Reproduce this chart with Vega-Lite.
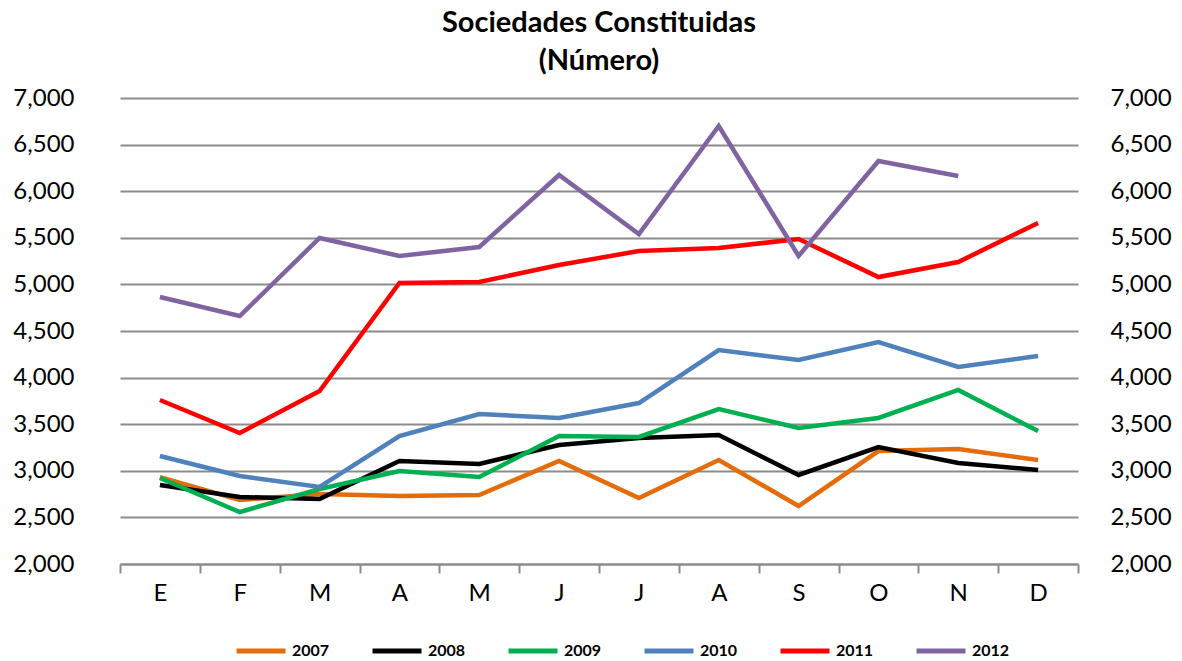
{
  "$schema": "https://vega.github.io/schema/vega-lite/v6.json",
  "autosize": "none",
  "width": 958,
  "height": 466,
  "padding": {"left": 120, "top": 98, "right": 104, "bottom": 97},
  "background": "white",
  "config": {
    "font": "Lato",
    "view": {"stroke": null}
  },
  "title": {
    "text": ["Sociedades Constituidas", "(Número)"],
    "anchor": "middle",
    "fontSize": 29,
    "font": "Lato",
    "fontWeight": "bold",
    "color": "black",
    "lineHeight": 38,
    "offset": 10
  },
  "data": {
    "values": [
      {"year": "2007", "m": 1, "v": 2933}, {"year": "2007", "m": 2, "v": 2687}, {"year": "2007", "m": 3, "v": 2751}, {"year": "2007", "m": 4, "v": 2730}, {"year": "2007", "m": 5, "v": 2740}, {"year": "2007", "m": 6, "v": 3105}, {"year": "2007", "m": 7, "v": 2708}, {"year": "2007", "m": 8, "v": 3116}, {"year": "2007", "m": 9, "v": 2622}, {"year": "2007", "m": 10, "v": 3212}, {"year": "2007", "m": 11, "v": 3234}, {"year": "2007", "m": 12, "v": 3116},
      {"year": "2008", "m": 1, "v": 2848}, {"year": "2008", "m": 2, "v": 2719}, {"year": "2008", "m": 3, "v": 2697}, {"year": "2008", "m": 4, "v": 3105}, {"year": "2008", "m": 5, "v": 3073}, {"year": "2008", "m": 6, "v": 3277}, {"year": "2008", "m": 7, "v": 3352}, {"year": "2008", "m": 8, "v": 3384}, {"year": "2008", "m": 9, "v": 2955}, {"year": "2008", "m": 10, "v": 3255}, {"year": "2008", "m": 11, "v": 3084}, {"year": "2008", "m": 12, "v": 3009},
      {"year": "2009", "m": 1, "v": 2923}, {"year": "2009", "m": 2, "v": 2558}, {"year": "2009", "m": 3, "v": 2805}, {"year": "2009", "m": 4, "v": 2998}, {"year": "2009", "m": 5, "v": 2933}, {"year": "2009", "m": 6, "v": 3373}, {"year": "2009", "m": 7, "v": 3363}, {"year": "2009", "m": 8, "v": 3663}, {"year": "2009", "m": 9, "v": 3459}, {"year": "2009", "m": 10, "v": 3567}, {"year": "2009", "m": 11, "v": 3867}, {"year": "2009", "m": 12, "v": 3427},
      {"year": "2010", "m": 1, "v": 3159}, {"year": "2010", "m": 2, "v": 2944}, {"year": "2010", "m": 3, "v": 2826}, {"year": "2010", "m": 4, "v": 3373}, {"year": "2010", "m": 5, "v": 3609}, {"year": "2010", "m": 6, "v": 3567}, {"year": "2010", "m": 7, "v": 3727}, {"year": "2010", "m": 8, "v": 4296}, {"year": "2010", "m": 9, "v": 4189}, {"year": "2010", "m": 10, "v": 4382}, {"year": "2010", "m": 11, "v": 4114}, {"year": "2010", "m": 12, "v": 4232},
      {"year": "2011", "m": 1, "v": 3760}, {"year": "2011", "m": 2, "v": 3406}, {"year": "2011", "m": 3, "v": 3856}, {"year": "2011", "m": 4, "v": 5015}, {"year": "2011", "m": 5, "v": 5026}, {"year": "2011", "m": 6, "v": 5208}, {"year": "2011", "m": 7, "v": 5358}, {"year": "2011", "m": 8, "v": 5391}, {"year": "2011", "m": 9, "v": 5487}, {"year": "2011", "m": 10, "v": 5079}, {"year": "2011", "m": 11, "v": 5240}, {"year": "2011", "m": 12, "v": 5659},
      {"year": "2012", "m": 1, "v": 4865}, {"year": "2012", "m": 2, "v": 4661}, {"year": "2012", "m": 3, "v": 5498}, {"year": "2012", "m": 4, "v": 5305}, {"year": "2012", "m": 5, "v": 5401}, {"year": "2012", "m": 6, "v": 6174}, {"year": "2012", "m": 7, "v": 5541}, {"year": "2012", "m": 8, "v": 6700}, {"year": "2012", "m": 9, "v": 5305}, {"year": "2012", "m": 10, "v": 6324}, {"year": "2012", "m": 11, "v": 6163}
    ]
  },
  "encoding": {
    "x": {
      "field": "m",
      "type": "ordinal",
      "bandPosition": 0.5,
      "scale": {"type": "band", "paddingInner": 0, "paddingOuter": 0},
      "axis": {
        "title": null,
        "labelExpr": "['E','F','M','A','M','J','J','A','S','O','N','D'][datum.value-1]",
        "labelAngle": 0,
        "labelFontSize": 24,
        "labelColor": "black",
        "labelFont": "Lato",
        "tickBand": "extent",
        "tickSize": 9,
        "tickColor": "#8c8c8c",
        "tickWidth": 2,
        "domainColor": "#8c8c8c",
        "domainWidth": 2,
        "labelPadding": 8,
        "grid": false
      }
    },
    "y": {
      "field": "v",
      "type": "quantitative",
      "scale": {"domain": [2000, 7000], "nice": false, "zero": false}
    }
  },
  "layer": [
    {
      "mark": {"type": "line", "strokeWidth": 4.5, "strokeJoin": "miter"},
      "encoding": {
        "y": {
          "field": "v",
          "type": "quantitative",
          "scale": {"domain": [2000, 7000], "nice": false, "zero": false},
          "axis": {
            "title": null,
            "orient": "left",
            "values": [2000, 2500, 3000, 3500, 4000, 4500, 5000, 5500, 6000, 6500, 7000],
            "format": ",.0f",
            "domain": false,
            "ticks": false,
            "labelPadding": 46,
            "labelFontSize": 24,
            "labelColor": "black",
            "labelFont": "Lato",
            "grid": true,
            "gridColor": "#8c8c8c",
            "gridWidth": 2
          }
        },
        "color": {
          "field": "year",
          "type": "nominal",
          "scale": {
            "domain": ["2007", "2008", "2009", "2010", "2011", "2012"],
            "range": ["#E46C0A", "#000000", "#00B050", "#4F81BD", "#FF0000", "#8064A2"]
          },
          "legend": {
            "title": null,
            "orient": "none",
            "legendX": 114,
            "legendY": 526,
            "direction": "horizontal",
            "symbolType": "stroke",
            "symbolStrokeWidth": 5,
            "symbolSize": 2400,
            "labelFontSize": 16,
            "labelFontWeight": "bold",
            "labelFont": "Lato",
            "labelColor": "black",
            "labelOffset": 4,
            "columnPadding": 32
          }
        }
      }
    },
    {
      "mark": {"type": "point", "opacity": 0},
      "encoding": {
        "y": {
          "field": "v",
          "type": "quantitative",
          "scale": {"domain": [2000, 7000], "nice": false, "zero": false},
          "axis": {
            "title": null,
            "orient": "right",
            "values": [2000, 2500, 3000, 3500, 4000, 4500, 5000, 5500, 6000, 6500, 7000],
            "format": ",.0f",
            "domain": false,
            "ticks": false,
            "labelPadding": 32,
            "labelFontSize": 24,
            "labelColor": "black",
            "labelFont": "Lato",
            "grid": false
          }
        }
      }
    }
  ],
  "resolve": {"axis": {"y": "independent"}}
}
